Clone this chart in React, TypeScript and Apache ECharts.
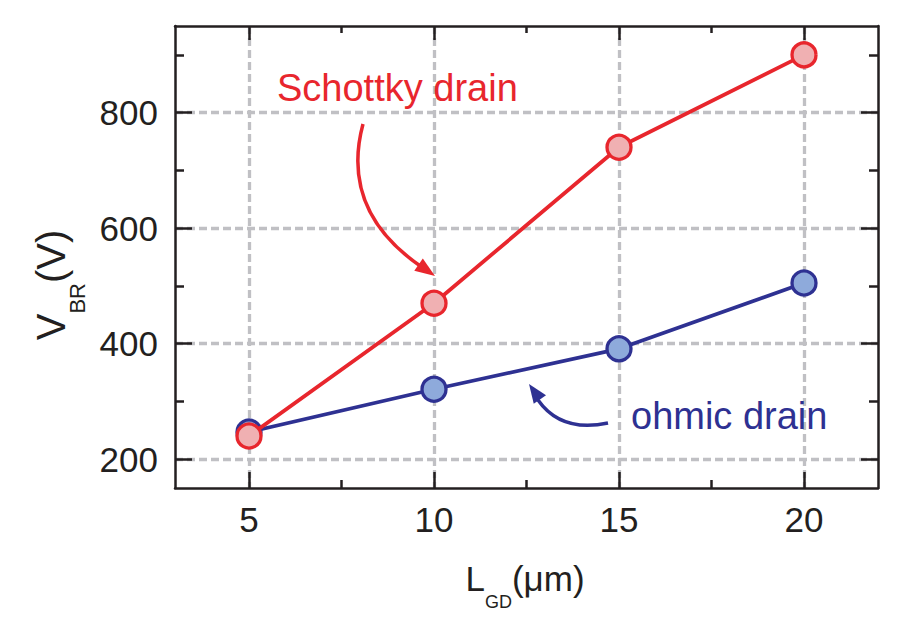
import React, { useEffect, useRef } from "react";
import * as echarts from "echarts";

const xValues = [5, 10, 15, 20];
const schottkyVbr = [240, 470, 740, 900];
const ohmicVbr = [247, 321, 391, 505];
const xMajorTicks = [5, 10, 15, 20];
const xMinorTicks = [7.5, 12.5, 17.5];
const yMajorTicks = [200, 400, 600, 800];
const yMinorTicks = [300, 500, 700, 900];

const FONT = "'Liberation Sans', Arial, Helvetica, sans-serif";
const INK = "#231f20";
const RED = "#e8262d";
const RED_FILL = "#f0b0b2";
const BLUE = "#2e3192";
const BLUE_FILL = "#8eaadb";
const GRID = "#c0c0c4";

function arrowHead(tx: number, ty: number, dx: number, dy: number, len: number, half: number) {
  const n = Math.hypot(dx, dy);
  const ux = dx / n, uy = dy / n;
  const bx = tx - len * ux, by = ty - len * uy;
  const px = -uy * half, py = ux * half;
  return [[tx, ty], [bx + px, by + py], [bx - px, by - py]];
}

export default function App() {
  const ref = useRef<HTMLDivElement>(null);
  useEffect(() => {
    if (!ref.current) return;
    const chart = echarts.init(ref.current, undefined, { renderer: "svg" });
    const axisLine = { show: true, onZero: false, lineStyle: { color: INK, width: 2.5 } };
    const xBase = { type: "value", min: 3, max: 22, gridIndex: 0 };
    const yBase = { type: "value", min: 150, max: 950, gridIndex: 0 };
    const tick = (vals: number[], len: number) => ({
      show: true, inside: true, length: len, customValues: vals,
      lineStyle: { color: INK, width: 2.5 },
    });
    const splitLine = { show: true, lineStyle: { color: GRID, width: 3.3, type: [8, 4] } };

    const toData = (ys: number[]) => xValues.map((x, i) => [x, ys[i]]);

    const option: any = {
      animation: false,
      backgroundColor: "#ffffff",
      grid: { left: 175, right: 26, top: 26, bottom: 153, containLabel: false },
      xAxis: [
        {
          ...xBase, position: "bottom", axisLine, axisTick: tick(xMajorTicks, 16),
          axisLabel: { show: true, customValues: xMajorTicks, fontSize: 35, color: INK, fontFamily: FONT, margin: 14 },
          splitLine,
        },
        { ...xBase, position: "bottom", axisLine: { show: false, onZero: false }, axisTick: tick(xMinorTicks, 8), axisLabel: { show: false }, splitLine: { show: false } },
        { ...xBase, position: "top", axisLine, axisTick: tick(xMajorTicks, 14), axisLabel: { show: false }, splitLine: { show: false } },
        { ...xBase, position: "top", axisLine: { show: false, onZero: false }, axisTick: tick(xMinorTicks, 7), axisLabel: { show: false }, splitLine: { show: false } },
      ],
      yAxis: [
        {
          ...yBase, position: "left", axisLine, axisTick: tick(yMajorTicks, 17),
          axisLabel: { show: true, customValues: yMajorTicks, fontSize: 35, color: INK, fontFamily: FONT, margin: 17 },
          splitLine,
        },
        { ...yBase, position: "left", axisLine: { show: false, onZero: false }, axisTick: tick(yMinorTicks, 9), axisLabel: { show: false }, splitLine: { show: false } },
        { ...yBase, position: "right", axisLine, axisTick: tick(yMajorTicks, 17), axisLabel: { show: false }, splitLine: { show: false } },
        { ...yBase, position: "right", axisLine: { show: false, onZero: false }, axisTick: tick(yMinorTicks, 9), axisLabel: { show: false }, splitLine: { show: false } },
      ],
      series: [
        {
          name: "ohmic drain", type: "line", xAxisIndex: 0, yAxisIndex: 0,
          data: toData(ohmicVbr), symbol: "circle", symbolSize: 24,
          lineStyle: { color: BLUE, width: 3.8 },
          itemStyle: { color: BLUE_FILL, borderColor: BLUE, borderWidth: 3.3 },
          z: 3,
        },
        {
          name: "Schottky drain", type: "line", xAxisIndex: 0, yAxisIndex: 0,
          data: toData(schottkyVbr), symbol: "circle", symbolSize: 24,
          lineStyle: { color: RED, width: 3.8 },
          itemStyle: { color: RED_FILL, borderColor: RED, borderWidth: 3.3 },
          z: 4,
        },
      ],
      graphic: [
        {
          type: "text", x: 277, y: 88, z: 10,
          style: { text: "Schottky drain", fill: RED, font: `38px ${FONT}`, align: "left", verticalAlign: "middle" },
        },
        {
          type: "text", x: 631, y: 416, z: 10,
          style: { text: "ohmic drain", fill: BLUE, font: `38px ${FONT}`, align: "left", verticalAlign: "middle" },
        },
        {
          type: "bezierCurve", z: 10,
          shape: { x1: 363, y1: 124, cpx1: 348, cpy1: 180, cpx2: 365, cpy2: 228, x2: 421, y2: 266.5 },
          style: { stroke: RED, lineWidth: 3.5, fill: "none" },
        },
        {
          type: "polygon", z: 10,
          shape: { points: arrowHead(435, 276, 55, 38, 20, 7.5) },
          style: { fill: RED, stroke: "none" },
        },
        {
          type: "bezierCurve", z: 10,
          shape: { x1: 608, y1: 423, cpx1: 575, cpy1: 430, cpx2: 552, cpy2: 420, x2: 538, y2: 400 },
          style: { stroke: BLUE, lineWidth: 3.5, fill: "none" },
        },
        {
          type: "polygon", z: 10,
          shape: { points: arrowHead(529, 384, -14, -20, 19, 7.5) },
          style: { fill: BLUE, stroke: "none" },
        },
        {
          type: "text", x: 525, y: 586, z: 10,
          style: {
            text: "{a|L}{s|GD}{a|(μm)}",
            align: "center", verticalAlign: "middle",
            rich: {
              a: { fontSize: 35, fontFamily: FONT, fill: INK, lineHeight: 40, verticalAlign: "top" },
              s: { fontSize: 18, fontFamily: FONT, fill: INK, lineHeight: 50, verticalAlign: "bottom" },
            },
          },
        },
        {
          type: "text", x: 59.5, y: 285, rotation: Math.PI / 2, z: 10,
          style: {
            text: "{a|V}{s|BR}{a|(V)}",
            align: "center", verticalAlign: "middle",
            rich: {
              a: { fontSize: 40, fontFamily: FONT, fill: INK, lineHeight: 46, verticalAlign: "top" },
              s: { fontSize: 22, fontFamily: FONT, fill: INK, lineHeight: 57, verticalAlign: "bottom" },
            },
          },
        },
      ],
    };
    chart.setOption(option);
    return () => chart.dispose();
  }, []);
  return <div ref={ref} style={{ position: "fixed", left: 0, top: 0, width: 904, height: 641, background: "#fff" }} />;
}
